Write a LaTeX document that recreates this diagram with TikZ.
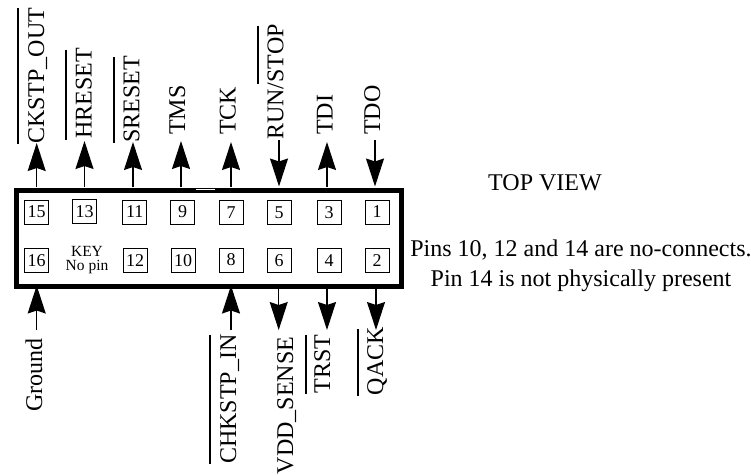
\documentclass[tikz,border=0pt]{standalone}
\usepackage{fontspec}
\setmainfont{Liberation Serif}
\usetikzlibrary{arrows.meta}
\tikzset{
  pinbox/.style={draw,line width=1pt,minimum size=24pt,inner sep=0pt,font=\fontsize{18}{18}\selectfont},
  siglabel/.style={rotate=90,anchor=base west,inner sep=0pt,font=\fontsize{24}{24}\selectfont},
  sig/.style={line width=1.3pt,-{Stealth[length=28pt,width=18pt,inset=3pt]}},
  overbar/.style={line width=1.6pt},
  note/.style={inner sep=0pt,anchor=base,font=\fontsize{24}{24}\selectfont},
  keytext/.style={inner sep=0pt,align=center,font=\fontsize{15.5}{13.3}\selectfont},
}
\begin{document}
\begin{tikzpicture}[x=1pt,y=-1pt]
\useasboundingbox (0,0) rectangle (751,475);
% header
\node[draw,line width=5pt,minimum width=385pt,minimum height=96pt,inner sep=0pt,anchor=north west] (hdr) at (13.5,187.5) {};
\draw[white,line width=5.5pt] (196,187.5) -- (215,187.5);
\draw[line width=0.9pt] (196,188.5) -- (215,188.5);
% pins
\foreach \n/\x/\y in {15/36.7/212,13/84.5/211.5,11/134.7/212,9/182.7/212,7/231/212.5,5/279/212.5,3/329/212.5,1/377/212,
  16/36.7/260.5,12/135/260.5,10/183/260.5,8/231/260,6/279/260.5,4/329/260.5,2/377/260.5}
  \node[pinbox] (pin\n) at (\x,\y) {\n};
\node[keytext] (key) at (87,260) {KEY\\No pin};
% labels
\foreach \n/\x/\y/\t in {15/44/144/{CKSTP\_OUT},13/91.7/139/HRESET,11/139.3/143/SRESET,9/185/135/TMS,7/235.7/135/TCK,5/283.3/140/{RUN/STOP},3/332.5/135/TDI,1/380/135/TDO,
  16/42/412/Ground,8/236/464/{CHKSTP\_IN},6/293/474.5/{VDD\_SENSE},4/330/393.5/TRST,2/383/395.5/QACK}
  \node[siglabel] (lab\n) at (\x,\y) {\t};
% overbars
\foreach \n/\x/\a/\b in {15/17.7/8/144,13/66/50/140,11/114/57/143,5/257.7/26/84,8/210/335/464,4/305.7/335/394,2/357.7/329/396}
  \draw[overbar] (\x,\a) -- (\x,\b);
% connectors: \o = free end, \e = arrow tip
\foreach \n/\x/\o/\e in {15/36.7/187/143,13/84.5/187/141,11/133/187/142,9/181/187/141,7/231/187/142,3/327/187/142,
  5/279/140/186.5,1/375/140/186.5,
  16/36.7/330/285.5,8/231/330/285.5,
  6/278.7/286/330,4/327/286/330,2/376/286/330}
  {\coordinate (a\n) at (\x,\o); \coordinate (b\n) at (\x,\e); \draw[sig] (a\n) -- (b\n);}
% notes
\node[note] (top) at (545,190) {TOP VIEW};
\node[note] (n1) at (581,256.7) {Pins 10, 12 and 14 are no-connects.};
\node[note] (n2) at (581,286) {Pin 14 is not physically present};
\end{tikzpicture}
\end{document}
